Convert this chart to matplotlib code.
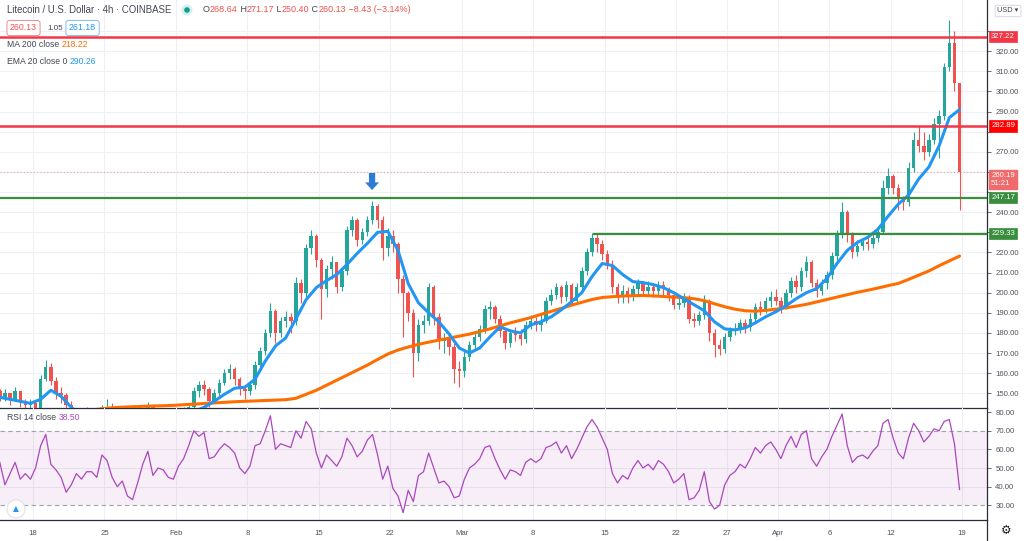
import matplotlib
matplotlib.use('Agg')
import matplotlib.pyplot as plt
import matplotlib.dates as mdates
import matplotlib.transforms as mtrans
from matplotlib.patches import Circle
import numpy as np
import pandas as pd

plt.rcParams['font.family'] = ['Liberation Sans', 'DejaVu Sans']

# ---------------- data (12h candles) ----------------
first_open = 151.0
close = [148,150,147,151,146,144,145,141,157,163,
         156,150,149,144,138,136,134,138,135,137,
         141,143,139,138,136,134,137,139,140,143,
         141,139,140,138,140,139,141,143,151,154,
         152,146,150,155,160,162,157,152,151,154,
         164,171,180,191,180,186,188,186,205,200,
         222,228,216,202,212,215,203,211,231,236,
         226,230,236,243,236,222,228,224,207,200,
         190,170,184,186,203,188,176,177,173,162,
         161,168,174,178,182,192,193,187,181,175,
         180,179,177,184,186,184,186,196,199,203,
         198,204,196,203,211,220,227,224,219,214,
         203,199,201,198,202,205,201,203,201,204,
         202,199,194,195,198,187,186,189,196,180,
         174,172,178,181,182,185,183,187,193,192,
         196,198,196,193,200,206,203,211,215,205,
         201,205,209,218,229,240,229,220,223,225,
         224,227,230,252,258,252,247,245,262,276,
         273,270,276,284,288,312,324,304,260.19]
high = [152,152,150,153,150,147,147,144,159,166.5,
        165,158,153,150,146,140,138,143,139,140,
        144,147,145,141,140,138,140,141,142,145.5,
        144,142,142,141,142,142,143,145,153,156,
        156.6,153,152,157,162,164.5,163,158,154,156,
        166,173,182,195,192,188,191,190,208,207,
        224,231,229,217,214,218,215,213,233,238,
        237,232,238,245.5,244,238,232,231,225,209,
        201,192,187,189,205,204,190,180,180,175,
        166,171,176,181,184,194,196,194,189,182,
        182,183,182,186,189,188,190,198,202,205,
        204,206,205,205,213,222,229.5,229,226,221,
        216,205,204,203,204,207,206,206,205,206,
        206,203,200,198,200,199,190,191,199,197,
        182,177,180,183,185,187,187,190,195,196,
        198,201,202,198,202,208,209,213,218,216,
        207,207,211,220,231,245,241,230,226,227,
        228,229,233,256,262,259,254,248,265,280,
        283,280,279,287,291,314,335.5,330,304]
low = [146,146,144,146,143,141,141,137,140,156,
       154,147,145,142,136,132,130,132,131,133,
       135,139,136,134,132,130,133,134,136,138,
       137,135,136,134,136,135,137,139,141,148,
       149,143,145,148,154,157,154,149,147,149,
       152,162,169,178,175,178,183,180,184,195,
       198,219,213,187,198,207,200,201,209,228,
       223,224,228,234,232,216,218,220,200,178,
       186,158,166,180,184,184,172,170,169,155,
       153,158,166,172,176,180,187,185,178,172,
       173,176,174,175,182,181,181,185,194,197,
       195,196,194,195,201,209,218,220,216,212,
       200,195,195,195,196,199,199,199,198,199,
       199,196,192,192,193,185,183,184,187,176,
       168,169,170,176,179,180,180,181,185,189,
       190,193,194,190,192,198,200,201,208,203,
       198,199,202,207,216,227,225,217,218,221,
       221,222,225,229,249,249,241,241,243,260,
       270,266,268,274,267,286,310,300,241]
# daily samples of the moving averages
ema20 = [148,147,146,145,147,151.5,148.5,143,139,138,
         138.5,139,138.5,138,138.5,139,139,139,139.5,141,
         143,146,149.5,152.5,153,157,166,173.5,177.5,187,
         196.5,202.5,206,209,214,219.5,224.5,230,230.5,221,
         204.5,195,190,185.5,179.5,172.5,170,172.5,178,183,
         181,180,184,185.5,188,191.5,195.5,200,208,214.5,
         213.5,209,205.5,205,204,202.5,200,197,194,191,
         185.5,182,181.5,182.5,185,188,190.5,193.5,197,200,
         202,207,214.5,221,225,227.5,231.5,238,244,248.5,
         256.5,262.5,273,287,291]
ma200 = [139.5,139.6,139.8,140,140.2,140.4,140.6,141,141.3,141.7,
         142.3,142.8,143.1,143.3,143.5,143.7,143.8,144,144.3,144.6,
         144.9,145.2,145.5,145.8,146,146.2,146.4,146.6,146.8,147.5,
         149.5,151.5,154,156.5,159,161.5,164,166.8,169.5,171.5,
         173,174.3,175.4,176.4,177.4,178.4,179.4,180.7,182,183.5,
         185,186.3,187.6,189.2,190.7,192.2,193.8,195.2,196.6,197.6,
         198,198.3,198.5,198.6,198.4,198.1,197.8,197.5,197,196,
         194.5,193,191.8,191,190.8,191.2,191.8,192.5,193.3,194.2,
         195.4,196.6,197.8,199,200.2,201.2,202.3,203.5,204.6,206.6,
         208.7,210.8,213.4,215.8,218.2]
rsi = [53,41,47,53,44,47,44,50,62,68,
       52,49,45,37,41,47,44,48,48,45,
       57,54,45,40,43,35,33,42,52,59,
       46,50,49,45,44,51,55,62,70,67,
       69,55,56,60,63,61,58,50,47,51,
       62,63,70,78,60,63,62,61,70,66,
       75,71,58,50,57,54,51,56,66,62,
       56,59,65,68,57,44,51,39,35,26,
       38,32,46,48,58,50,42,43,40,34,
       35,44,50,52,55,61,62,55,49,44,
       49,48,46,53,55,53,55,61,62,64,
       58,62,55,60,66,72,76,72,66,60,
       47,42,46,44,50,54,50,52,49,54,
       52,48,42,44,47,33,34,38,48,32,
       28,30,41,46,48,52,50,55,61,58,
       62,64,60,55,62,67,61,68,70,55,
       51,56,60,67,73,79,62,53,56,57,
       55,59,62,74,76,66,58,55,66,74,
       70,64,67,71,70,75,76,63,38.5]

red_levels = [327.22, 282.89]
green_levels = [247.17, 229.33]
green2_start = '2021-03-13 22:00'
last_price = 260.19
countdown = '51:21'
tick_dates = ['2021-01-18','2021-01-25','2021-02-01','2021-02-08','2021-02-15','2021-02-22',
              '2021-03-01','2021-03-08','2021-03-15','2021-03-22','2021-03-27','2021-04-01',
              '2021-04-06','2021-04-12','2021-04-19']
tick_labels = ['18','25','Feb','8','15','22','Mar','8','15','22','27','Apr','6','12','19']
price_ticks = list(range(150, 331, 10))
hidden_price_labels = [330, 280, 260, 250, 230]   # covered by the level boxes
rsi_ticks = [30, 40, 50, 60, 70, 80]
arrow_date = '2021-02-20 05:00'

# ---------------- figure ----------------
W, H = 1024, 541
fig = plt.figure(figsize=(W/100, H/100), dpi=100)
fig.patch.set_facecolor('white')

def fx(px):
    return px / W

def fy(py):
    return 1 - py / H

right_px = 987
ax = fig.add_axes([0, fy(408), fx(right_px), 408/H])
ax2 = fig.add_axes([0, fy(520), fx(right_px), 112/H], sharex=ax)

starts = pd.date_range('2021-01-14 12:00', periods=len(close), freq='12h')
centers = starts + pd.Timedelta(hours=6)
xc = mdates.date2num(centers.to_pydatetime())
xd = xc[::2]

o = np.array([first_open] + close[:-1], dtype=float)
c = np.array(close, dtype=float)
h = np.maximum(np.array(high, dtype=float), np.maximum(o, c))
l = np.minimum(np.array(low, dtype=float), np.minimum(o, c))
up = c >= o
GREEN, RED = '#26a69a', '#ef5350'
cols = np.where(up, GREEN, RED)

grid_c = '#edf0f5'
tdates = mdates.date2num(pd.to_datetime(tick_dates).to_pydatetime())
for a in (ax, ax2):
    for t in tdates:
        a.axvline(t, color=grid_c, lw=0.8, zorder=0)
for p in price_ticks:
    ax.axhline(p, color=grid_c, lw=0.8, zorder=0)
for r in [40, 50, 60]:
    ax2.axhline(r, color='#e6e0ee', lw=0.8, zorder=1)

ax.vlines(xc, l, h, colors=cols, lw=0.8, zorder=2)
ax.bar(xc, np.maximum(np.abs(c - o), 0.4), bottom=np.minimum(o, c), width=0.34,
       color=cols, zorder=3, linewidth=0)

ax.plot(xd, ma200, color='#ff6d00', lw=2.2, zorder=4, solid_capstyle='round')
ax.plot(xd, ema20, color='#2196f3', lw=2.2, zorder=4, solid_capstyle='round')

for lv in red_levels:
    ax.axhline(lv, color='#f23645', lw=1.8, zorder=5)
ax.axhline(green_levels[0], color='#388e3c', lw=1.6, zorder=5)
g0 = mdates.date2num(pd.Timestamp(green2_start).to_pydatetime())
ax.plot([g0, xc[-1] + 10], [green_levels[1]] * 2, color='#388e3c', lw=1.6, zorder=5)
ax.axhline(last_price, color='#ef5350', lw=0.8, ls=(0, (1, 2)), alpha=0.5, zorder=1)

ad = mdates.date2num(pd.Timestamp(arrow_date).to_pydatetime())
ax.annotate('', xy=(ad, 251.0), xytext=(ad, 259.5),
            arrowprops=dict(arrowstyle='simple,head_width=1.0,head_length=0.55,tail_width=0.45',
                            color='#2e7bd6', lw=0, shrinkA=0, shrinkB=0))

xl = mdates.date2num(pd.Timestamp('2021-01-18').to_pydatetime())
ax.set_xlim(xl - 33/10.21, xl + (right_px - 33)/10.21)
ax.set_ylim(142.68, 345.46)

# RSI pane
ax2.axhspan(30, 70, color='#9c27b0', alpha=0.08, lw=0, zorder=0)
ax2.axhline(70, color='#a0a3ad', lw=0.8, ls=(0, (4, 3)), zorder=1)
ax2.axhline(30, color='#a0a3ad', lw=0.8, ls=(0, (4, 3)), zorder=1)
ax2.plot(xc, rsi, color='#ab47bc', lw=0.9, zorder=3)
ax2.set_ylim(22.1, 82.2)

axis_c = '#50535e'
for a, ticks, hidden in ((ax, price_ticks, hidden_price_labels), (ax2, rsi_ticks, [])):
    a.set_facecolor('none')
    a.yaxis.tick_right()
    a.set_yticks(ticks)
    a.set_yticklabels(['' if v in hidden else f'{v:.2f}' for v in ticks])
    a.tick_params(axis='y', labelsize=5.6, colors=axis_c, length=3, width=0.6, pad=3)
    for s in ('top', 'left'):
        a.spines[s].set_visible(False)
    a.spines['right'].set_color('#2a2e39')
    a.spines['right'].set_linewidth(0.9)
    a.spines['bottom'].set_color('#2a2e39')
    a.spines['bottom'].set_linewidth(0.9)
ax.tick_params(axis='x', length=0, labelbottom=False)
ax2.set_xticks(tdates)
ax2.set_xticklabels(tick_labels)
ax2.tick_params(axis='x', labelsize=5.6, colors=axis_c, length=0, pad=7)

# price-axis label boxes
def level_label(a, val, text, fc, ec=None):
    a.annotate(text, xy=(1.0, val), xycoords=('axes fraction', 'data'),
               xytext=(3, 0), textcoords='offset points', ha='left', va='center',
               fontsize=5.6, color='white', annotation_clip=False, zorder=10,
               bbox=dict(boxstyle='square,pad=0.28', fc=fc, ec=ec or fc, lw=0.5))

level_label(ax, red_levels[0], f'{red_levels[0]:.2f}', '#f23645')
level_label(ax, red_levels[1], f'{red_levels[1]:.2f}', '#ff0000')
level_label(ax, green_levels[0], f'{green_levels[0]:.2f}', '#388e3c')
level_label(ax, green_levels[1], f'{green_levels[1]:.2f}', '#388e3c')
ax.annotate(f'{last_price:.2f}\n{countdown}', xy=(1.0, last_price - 3.8),
            xycoords=('axes fraction', 'data'), xytext=(3, 0), textcoords='offset points',
            ha='left', va='center', fontsize=5.6, color='white', linespacing=1.2,
            annotation_clip=False, zorder=10,
            bbox=dict(boxstyle='square,pad=0.28', fc='#f06b6b', ec='#f06b6b'))

# vertical axis line through the time axis
fig.add_artist(plt.Line2D([fx(right_px), fx(right_px)], [0, fy(520)],
                          color='#2a2e39', lw=0.9))

# header texts
renderer = fig.canvas.get_renderer()

def seq_text(x, y, pieces, size, **kw):
    for s, col in pieces:
        t = fig.text(fx(x), fy(y), s, color=col, fontsize=size, va='center', ha='left', **kw)
        x = t.get_window_extent(renderer).x1
    return x

gray = '#434651'
seq_text(7, 10, [('Litecoin / U.S. Dollar · 4h · COINBASE', gray)], 6.9)
idt = mtrans.IdentityTransform()
fig.add_artist(Circle((187, H - 10), 5.5, transform=idt, fc='#d5efec', ec='none'))
fig.add_artist(Circle((187, H - 10), 2.8, transform=idt, fc='#0f9d8a', ec='none'))
seq_text(203, 10, [('O', gray), ('268.64', RED), (' H', gray), ('271.17', RED),
                   (' L', gray), ('250.40', RED), (' C', gray), ('260.13', RED),
                   (' −8.43 (−3.14%)', RED)], 6.5)

fig.text(fx(10), fy(28), '260.13', fontsize=6.3, color=RED, va='center', ha='left',
         bbox=dict(boxstyle='round,pad=0.35,rounding_size=0.3', fc='white', ec='#f28b8b', lw=0.7))
fig.text(fx(47), fy(28), '1.05', fontsize=5.8, color=gray, va='center', ha='left')
fig.text(fx(69), fy(28), '261.18', fontsize=6.3, color='#2196f3', va='center', ha='left',
         bbox=dict(boxstyle='round,pad=0.35,rounding_size=0.3', fc='white', ec='#7fbdf2', lw=0.7))
seq_text(7, 45, [('MA 200 close ', gray), ('218.22', '#ff6d00')], 6.2)
seq_text(7, 62, [('EMA 20 close 0 ', gray), ('290.26', '#2196f3')], 6.2)
seq_text(7, 418, [('RSI 14 close ', gray), ('38.50', '#ab47bc')], 6.2)

fig.text(fx(1008), fy(11), 'USD ▾', fontsize=5.3, color=gray, va='center', ha='center',
         bbox=dict(boxstyle='round,pad=0.3,rounding_size=0.2', fc='white', ec='#d1d4dc', lw=0.6))
fig.text(fx(1006), fy(531), '⚙', fontsize=8.5, color='#131722', va='center', ha='center',
         family='DejaVu Sans')
fig.add_artist(Circle((16, H - 509), 9, transform=idt, fc='white', ec='#e0e3eb', lw=0.8))
fig.text(fx(16), fy(509), '▲', fontsize=5.5, color='#2196f3', va='center', ha='center',
         family='DejaVu Sans')

fig.savefig('out.png', dpi=100, facecolor='white')
